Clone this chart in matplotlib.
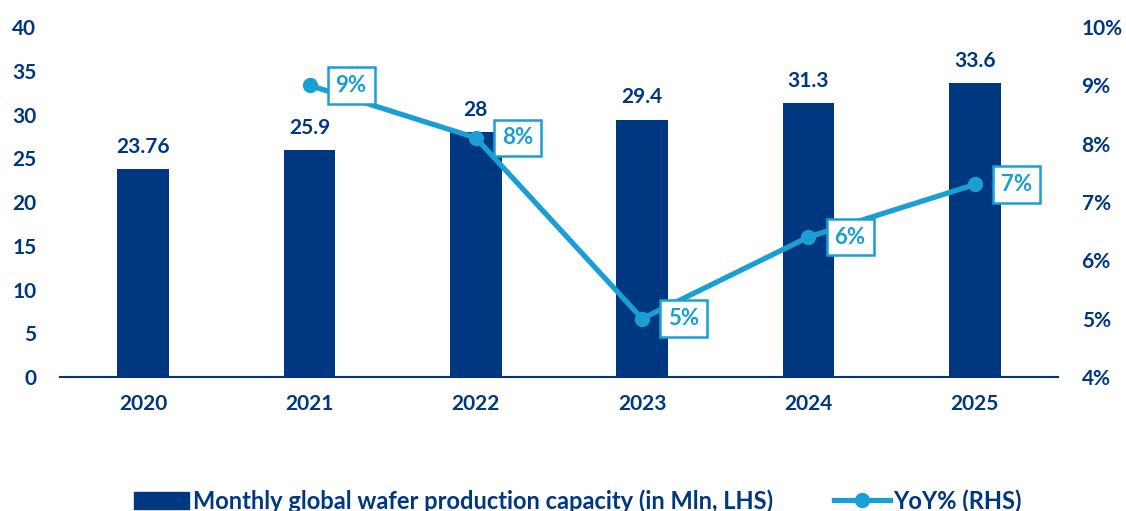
import numpy as np
from matplotlib import pyplot as plt
from matplotlib.lines import Line2D
from matplotlib.patches import Patch

years = ['2020', '2021', '2022', '2023', '2024', '2025']
capacity = [23.76, 25.9, 28, 29.4, 31.3, 33.6]
capacity_labels = ['23.76', '25.9', '28', '29.4', '31.3', '33.6']
yoy = [None, 9.0, 8.1, 5.0, 6.4, 7.3]

navy = '#003781'
blue = '#1a9fd4'

plt.rcParams['font.family'] = ['Lato', 'DejaVu Sans']
plt.rcParams['font.weight'] = 'bold'

fig = plt.figure(figsize=(11.26, 5.11), dpi=100)
ax = fig.add_axes([60 / 1126, 134 / 511, 998 / 1126, 350 / 511])
x = np.arange(len(years))

# bars on the left axis
ax.bar(x, capacity, width=0.31, color=navy, zorder=2)
for xi, v, s in zip(x, capacity, capacity_labels):
    ax.annotate(s, (xi, v), xytext=(0, 9), textcoords='offset points',
                ha='center', va='bottom', color=navy, fontsize=15, fontweight='bold')

ax.set_xlim(-0.5, 5.5)
ax.set_ylim(0, 40)
ax.set_yticks(np.arange(0, 41, 5))
ax.set_xticks(x)
ax.set_xticklabels(years)
for s in ['top', 'right', 'left']:
    ax.spines[s].set_visible(False)
ax.spines['bottom'].set_color(navy)
ax.spines['bottom'].set_linewidth(1.5)
ax.tick_params(axis='both', length=0, colors=navy, labelsize=15)
ax.tick_params(axis='x', pad=12)
ax.tick_params(axis='y', pad=17)

# YoY line on the right axis
ax2 = ax.twinx()
lx = [xi for xi, v in zip(x, yoy) if v is not None]
ly = [v for v in yoy if v is not None]
ax2.plot(lx, ly, color=blue, lw=3.8, marker='o', ms=10, zorder=3)
for xi, v in zip(lx, ly):
    ax2.annotate('%d%%' % round(v), (xi, v), xytext=(30, 0), textcoords='offset points',
                 ha='center', va='center', color=blue, fontsize=16, fontweight='bold',
                 bbox=dict(boxstyle='square,pad=0.35', fc='white', ec=blue, lw=1.8))
ax2.set_ylim(4, 10)
ax2.set_yticks(np.arange(4, 11, 1))
ax2.set_yticklabels(['%d%%' % t for t in range(4, 11)])
for s in ['top', 'right', 'left', 'bottom']:
    ax2.spines[s].set_visible(False)
ax2.tick_params(axis='y', length=0, colors=navy, labelsize=15, pad=17)

handles = [Patch(color=navy),
           Line2D([], [], color=blue, lw=3.8, marker='o', ms=10)]
labels = ['Monthly global wafer production capacity (in Mln, LHS)', 'YoY% (RHS)']
leg = fig.legend(handles, labels, loc='lower center', ncol=2, frameon=False,
                 bbox_to_anchor=(0.513, -0.045), fontsize=17, handlelength=2.35,
                 columnspacing=2.6, handletextpad=0.15)
for t in leg.get_texts():
    t.set_color(navy)

fig.savefig('out.png', dpi=100)
